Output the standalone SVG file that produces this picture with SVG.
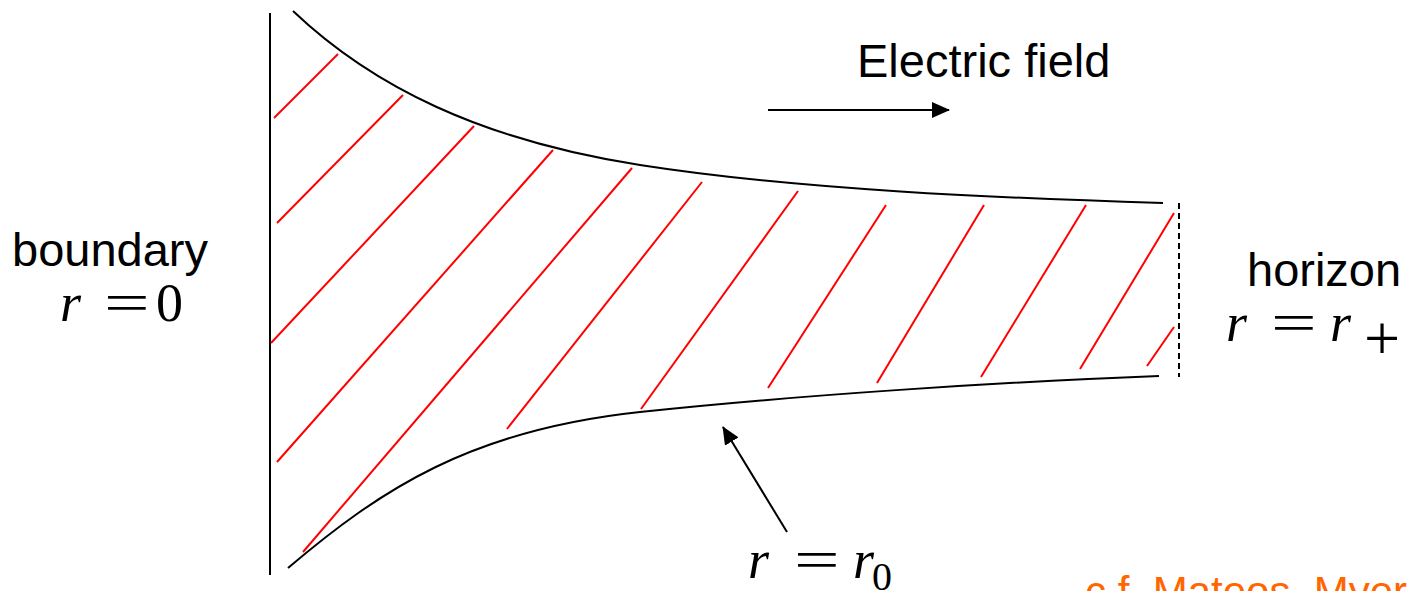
<svg xmlns="http://www.w3.org/2000/svg" width="1408" height="591" viewBox="0 0 1408 591">
<defs>
<style>
.blk{stroke:#000;stroke-width:2;fill:none}
.hatch{stroke:#ff0000;stroke-width:2;fill:none}
.lbl{font-family:"Liberation Sans",Arial,sans-serif;font-size:47px;fill:#000}
.math{font-family:"Liberation Serif","DejaVu Serif",serif;font-size:54px;fill:#000}
.it{font-style:italic}
.sub{font-size:40px}
.plus{font-size:64px}
.ref{font-family:"Liberation Sans",Arial,sans-serif;font-size:42px;fill:#ff6600}
</style>
<marker id="ah2" markerWidth="18" markerHeight="16" refX="17" refY="8" orient="auto" markerUnits="userSpaceOnUse" viewBox="0 0 18 16">
<path d="M0,0 L18,8 L0,16 z" fill="#000"/>
</marker>
</defs>
<rect width="1408" height="591" fill="#fff"/>
<g id="region">
<line class="blk" x1="270" y1="13" x2="270" y2="575"/>
<path class="blk" d="M293,11 C372,86 480,140 640,165 C800,190 1000,198 1163,203"/>
<path class="blk" d="M288,568 C380,490 470,430 640,412 C800,395 1000,382 1159,376"/>
<line x1="1179" y1="203" x2="1179" y2="377" stroke="#000" stroke-width="2" stroke-dasharray="6,4"/>
</g>
<g id="hatching">
<line class="hatch" x1="274" y1="118" x2="338" y2="54"/>
<line class="hatch" x1="277" y1="223" x2="403" y2="95"/>
<line class="hatch" x1="271" y1="343" x2="474" y2="126"/>
<line class="hatch" x1="277" y1="462" x2="553" y2="150"/>
<line class="hatch" x1="303" y1="552" x2="632" y2="168"/>
<line class="hatch" x1="507" y1="429" x2="702" y2="182"/>
<line class="hatch" x1="641" y1="409" x2="798" y2="191"/>
<line class="hatch" x1="768" y1="388" x2="886" y2="205"/>
<line class="hatch" x1="877" y1="383" x2="984" y2="205"/>
<line class="hatch" x1="981" y1="377" x2="1086" y2="205"/>
<line class="hatch" x1="1080" y1="369" x2="1174" y2="213"/>
<line class="hatch" x1="1147" y1="366" x2="1174" y2="327"/>
</g>
<g id="connectors">
<line x1="768" y1="110" x2="949" y2="110" stroke="#000" stroke-width="2" marker-end="url(#ah2)"/>
<line x1="787" y1="532" x2="723" y2="427" stroke="#000" stroke-width="2" marker-end="url(#ah2)"/>
</g>
<g id="electric-field"><text class="lbl" x="857" y="77">Electric field</text></g>
<g id="boundary">
<text class="lbl" x="12" y="266">boundary</text>
<text class="math it" x="60" y="321">r</text>
<text class="math" transform="translate(104,321) scale(1.5,1)">=</text>
<text class="math" x="156" y="321">0</text>
</g>
<g id="horizon">
<text class="lbl" x="1247" y="286">horizon</text>
<text class="math it" x="1226" y="341">r</text>
<text class="math" transform="translate(1271,341) scale(1.5,1)">=</text>
<text class="math it" x="1330" y="341">r</text>
<text class="math plus" x="1364" y="360">+</text>
</g>
<g id="r0-label">
<text class="math it" x="748" y="578">r</text>
<text class="math" transform="translate(794,578) scale(1.5,1)">=</text>
<text class="math it" x="853" y="578">r</text>
<text class="math sub" x="872" y="590">0</text>
</g>
<g id="citation"><text class="ref" x="1085" y="606">c.f. Mateos, Myers</text></g>
</svg>
